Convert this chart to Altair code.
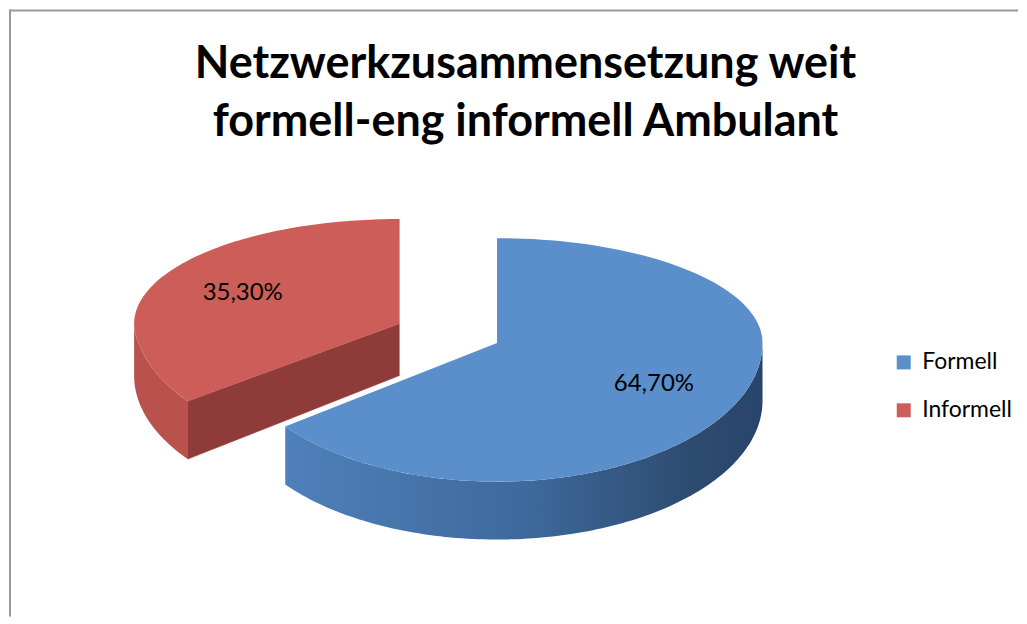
import altair as alt
import pandas as pd

# ---------------- data ----------------
categories = ["Formell", "Informell"]
values = [64.7, 35.3]
labels = [f"{v:.2f}".replace(".", ",") + "%" for v in values]
title_lines = ["Netzwerkzusammensetzung weit", "formell-eng informell Ambulant"]

# ---------------- styles / layout ----------------
TOP_COLORS = ["#5B8FCB", "#CD5D59"]
FACE_COLORS = {"Formell": "#2F5079", "Informell": "#8E3B39"}
WALL_FILL = {
    "Formell": alt.LinearGradient(
        gradient="linear",
        stops=[
            alt.GradientStop(color="#4F80BA", offset=0),
            alt.GradientStop(color="#3D6A9C", offset=0.5),
            alt.GradientStop(color="#2E4B70", offset=0.85),
            alt.GradientStop(color="#28446A", offset=1),
        ],
        x1=0, x2=1, y1=0, y2=0,
    ),
    "Informell": "#B9514D",
}
EXPLODE = {"Informell": 0.41}
FONT = "Lato"

W, H = 1011, 608                # whole chart area (page 8..1019, 8..616)
RX = 266                        # horizontal pie radius in px
RY_FAR, RY_NEAR = 105, 139      # vertical radius behind / in front of the centre (perspective)
CXP, CYP = 489, 334             # pie centre inside the plot (px)
DEPTH = 58 / RY_NEAR            # extrusion depth in y units
N = 120                         # points per arc
LR = 0.66                       # label radius

df = pd.DataFrame({"idx": list(range(len(categories))), "category": categories,
                   "value": values, "label": labels})

xs = alt.Scale(domain=[-CXP / RX, (W - CXP) / RX], nice=False, zero=False)
ys = alt.Scale(domain=[-(H - CYP) / RY_NEAR, 0, CYP / RY_FAR], range=[H, CYP, 0],
               nice=False, zero=False)

explode_expr = "0"
for c, e in EXPLODE.items():
    explode_expr = f"datum.category == '{c}' ? {e} : ({explode_expr})"

base = (
    alt.Chart(df)
    .transform_window(cum="sum(value)", frame=[None, 0], sort=[alt.SortField("idx")])
    .transform_joinaggregate(total="sum(value)")
    .transform_calculate(a0="2 * PI * (datum.cum - datum.value) / datum.total")
    .transform_calculate(a1="2 * PI * datum.cum / datum.total")
    .transform_calculate(mid="(datum.a0 + datum.a1) / 2")
    .transform_calculate(ex=explode_expr)
    .transform_calculate(cx="datum.ex * sin(datum.mid)")
    .transform_calculate(cy="datum.ex * cos(datum.mid)")
)

X = alt.X("px:Q", scale=xs, axis=None)
Y = alt.Y("py:Q", scale=ys, axis=None)

legend = alt.Legend(
    title=None, orient="none", legendX=885, legendY=342,
    symbolType="square", symbolSize=196, symbolStrokeWidth=0,
    labelFont=FONT, labelFontSize=23, labelColor="#000000",
    labelOffset=7, rowPadding=24, labelLimit=300,
)


def wall_layer(c):
    return (
        base.transform_filter(alt.datum.category == c)
        .transform_calculate(b0="max(datum.a0, PI / 2)")
        .transform_calculate(b1="min(datum.a1, 3 * PI / 2)")
        .transform_filter("datum.b1 > datum.b0")
        .transform_calculate(j=f"sequence(0, {2 * N + 2})")
        .transform_flatten(["j"])
        .transform_calculate(jj=f"datum.j <= {N} ? datum.j : {2 * N + 1} - datum.j")
        .transform_calculate(ang=f"datum.b0 + (datum.b1 - datum.b0) * datum.jj / {N}")
        .transform_calculate(px="datum.cx + sin(datum.ang)")
        .transform_calculate(py=f"datum.cy + cos(datum.ang) - (datum.j <= {N} ? 0 : {DEPTH})")
        .mark_line(filled=True, fill=WALL_FILL[c], strokeWidth=0)
        .encode(x=X, y=Y, order="j:Q")
    )


def face_layer(c):
    return (
        base.transform_filter(alt.datum.category == c)
        .transform_calculate(e="sequence(0, 2)")
        .transform_flatten(["e"])
        .transform_calculate(fa="datum.e == 0 ? datum.a0 : datum.a1")
        .transform_calculate(vis="datum.e == 0 ? sin(datum.a0) < -0.001 : sin(datum.a1) > 0.001")
        .transform_filter("datum.vis")
        .transform_calculate(k="sequence(0, 4)")
        .transform_flatten(["k"])
        .transform_calculate(px="datum.cx + ((datum.k == 1 || datum.k == 2) ? sin(datum.fa) : 0)")
        .transform_calculate(
            py=f"datum.cy + ((datum.k == 1 || datum.k == 2) ? cos(datum.fa) : 0) - (datum.k >= 2 ? {DEPTH} : 0)")
        .mark_line(filled=True, fill=FACE_COLORS[c], stroke=FACE_COLORS[c], strokeWidth=0.5)
        .encode(x=X, y=Y, order="k:Q", detail="e:N")
    )


def top_layer(c):
    return (
        base.transform_filter(alt.datum.category == c)
        .transform_calculate(i=f"sequence(0, {N + 2})")
        .transform_flatten(["i"])
        .transform_calculate(ang=f"datum.a0 + (datum.a1 - datum.a0) * (datum.i - 1) / {N}")
        .transform_calculate(px="datum.i == 0 ? datum.cx : datum.cx + sin(datum.ang)")
        .transform_calculate(py="datum.i == 0 ? datum.cy : datum.cy + cos(datum.ang)")
        .mark_line(filled=True, strokeWidth=0)
        .encode(
            x=X, y=Y, order="i:Q",
            color=alt.Color("category:N",
                            scale=alt.Scale(domain=categories, range=TOP_COLORS),
                            legend=legend),
        )
    )


text_layer = (
    base.transform_calculate(px=f"datum.cx + {LR} * sin(datum.mid)")
    .transform_calculate(py=f"datum.cy + {LR} * cos(datum.mid)")
    .mark_text(font=FONT, fontSize=24, color="#000000")
    .encode(x=X, y=Y, text="label:N")
)

frame_df = pd.DataFrame({"k": [0]})
top_rule = alt.Chart(frame_df).mark_rule(color="#9A9A9A", strokeWidth=2).encode(
    x=alt.value(0), x2=alt.value(W), y=alt.value(1))
left_rule = alt.Chart(frame_df).mark_rule(color="#9A9A9A", strokeWidth=2).encode(
    x=alt.value(1), y=alt.value(0), y2=alt.value(H))

layers = []
for c in ["Informell", "Formell"]:
    layers += [wall_layer(c), face_layer(c), top_layer(c)]

chart = (
    alt.layer(*layers, text_layer, top_rule, left_rule)
    .properties(
        width=W, height=H, padding=0,
        title=alt.TitleParams(
            text=title_lines, font=FONT, fontSize=45, fontWeight="bold",
            lineHeight=58, color="#000000", anchor="middle", dx=12, offset=-137,
        ),
    )
    .configure_view(stroke=None)
)

chart.save("out.html", embed_options={"renderer": "svg", "actions": False})
